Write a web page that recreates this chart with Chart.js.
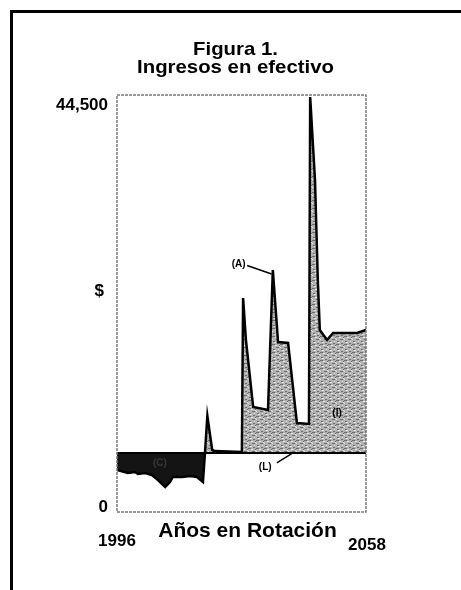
<!DOCTYPE html>
<html>
<head>
<meta charset="utf-8">
<script src="https://cdn.jsdelivr.net/npm/chart.js@4/dist/chart.umd.min.js"></script>
<style>
  html, body { margin: 0; padding: 0; background: #fff; }
  #wrap { width: 461px; height: 590px; }
</style>
</head>
<body>
<div id="wrap"><canvas id="chart" width="461" height="590"></canvas></div>
<script>
// Data
const years = [1996, 1998.7, 2000.5, 2001.2, 2003.0, 2004.7, 2006.2, 2008.0, 2009.2, 2009.9,
  2012.2, 2014.2, 2015.9, 2017.4, 2017.9, 2018.5, 2019.7, 2020.4, 2027.1, 2027.4,
  2028.1, 2029.9, 2033.6, 2034.8, 2036.1, 2038.6, 2040.8, 2043.8, 2044.1, 2045.3,
  2046.0, 2046.5, 2048.3, 2049.8, 2055.8, 2058];
const income = [4482, 4162, 4268, 4055, 4162, 3948, 3415, 2668, 3201, 3735,
  3735, 3842, 3735, 3201, 6300, 10244, 6616, 6500, 6403, 22836,
  18354, 11205, 10884, 25824, 18141, 18034, 9497, 9390, 44285, 35428,
  24757, 19421, 18354, 19101, 19101, 19421];
const baseline = 6300;
const yearStart = 1996;
const yearEnd = 2058;
const yMax = 44500;
const yTickValues = [44500, 23600, 0];
const yTickLabels = ["44,500", "$", "0"];
const xTickValues = [1996, 2058];
const titleLines = ["Figura 1.", "Ingresos en efectivo"];
const xTitle = "Años en Rotación";

const FONT = "'Liberation Sans', Arial, sans-serif";

function makeStipple() {
  const c = document.createElement("canvas");
  c.width = 8;
  c.height = 8;
  const g = c.getContext("2d");
  g.fillStyle = "#b2b2b2";
  g.fillRect(0, 0, 8, 8);
  g.fillStyle = "#6e6e6e";
  g.fillRect(0, 0, 3, 1);
  g.fillRect(4, 3, 3, 1);
  g.fillRect(1, 5, 2, 1);
  g.fillRect(5, 7, 2, 1);
  g.fillRect(7, 1, 1, 1);
  g.fillStyle = "#e6e6e6";
  g.fillRect(3, 1, 2, 1);
  g.fillRect(7, 2, 1, 1);
  g.fillRect(2, 6, 2, 1);
  g.fillRect(6, 5, 1, 1);
  g.fillRect(0, 3, 1, 1);
  return g.createPattern(c, "repeat");
}

const ctxMain = document.getElementById("chart").getContext("2d");
const stipple = makeStipple();

function text(ctx, str, x, y, size, align, base, sx) {
  ctx.save();
  ctx.font = "bold " + size + "px " + FONT;
  ctx.fillStyle = "#000";
  ctx.textAlign = align;
  ctx.textBaseline = base;
  ctx.translate(x, y);
  ctx.scale(sx || 1, 1);
  ctx.fillText(str, 0, 0);
  ctx.restore();
}

function line(ctx, x1, y1, x2, y2, w) {
  ctx.save();
  ctx.strokeStyle = "#000";
  ctx.lineWidth = w;
  ctx.beginPath();
  ctx.moveTo(x1, y1);
  ctx.lineTo(x2, y2);
  ctx.stroke();
  ctx.restore();
}

const decorPlugin = {
  id: "decor",
  beforeDraw(chart) {
    const ctx = chart.ctx;
    // page frame (top and left only, picture is cropped)
    ctx.save();
    ctx.fillStyle = "#000";
    ctx.fillRect(10, 10, 451, 3);
    ctx.fillRect(10, 10, 3, 580);
    ctx.restore();
  },
  afterDraw(chart) {
    const ctx = chart.ctx;
    const a = chart.chartArea;
    const xs = chart.scales.x;
    const ys = chart.scales.y;

    // dotted plot frame
    ctx.save();
    ctx.strokeStyle = "#7a7a7a";
    ctx.lineWidth = 1.5;
    ctx.setLineDash([3, 1]);
    ctx.strokeRect(a.left, a.top, a.right - a.left, a.bottom - a.top);
    ctx.restore();

    // title
    const cx = (a.left + a.right) / 2 - 6;
    text(ctx, titleLines[0], cx, 55, 18.5, "center", "alphabetic", 1.1);
    text(ctx, titleLines[1], cx, 73, 18.5, "center", "alphabetic", 1.1);

    // y labels
    text(ctx, yTickLabels[0], a.left - 9, ys.getPixelForValue(yTickValues[0]) + 2, 17, "right", "top");
    text(ctx, yTickLabels[1], a.left - 13, ys.getPixelForValue(yTickValues[1]), 17, "right", "middle");
    text(ctx, yTickLabels[2], a.left - 9, ys.getPixelForValue(yTickValues[2]), 17, "right", "alphabetic");

    // x title and labels
    text(ctx, xTitle, xs.getPixelForValue(2028.5), 537, 21, "center", "alphabetic");
    text(ctx, String(xTickValues[0]), xs.getPixelForValue(xTickValues[0]), 546, 17, "center", "alphabetic");
    text(ctx, String(xTickValues[1]), xs.getPixelForValue(xTickValues[1]) + 1, 550, 17, "center", "alphabetic");

    // annotations
    const px = (yr) => xs.getPixelForValue(yr);
    const py = (v) => ys.getPixelForValue(v);
    text(ctx, "(A)", px(2026.3), py(26400), 10, "center", "middle");
    line(ctx, px(2028.4), py(26300), px(2034.5), py(25400), 1.5);
    text(ctx, "(I)", px(2050.8), py(10560), 10, "center", "middle");
    text(ctx, "(L)", px(2032.9), py(4800), 10, "center", "middle");
    line(ctx, px(2035.8), py(5250), px(2039.6), py(6250), 1.5);
    ctx.save();
    ctx.globalAlpha = 0.35;
    ctx.fillStyle = "#777";
    ctx.font = "bold 10px " + FONT;
    ctx.textAlign = "center";
    ctx.textBaseline = "middle";
    ctx.fillText("(C)", px(2006.7), py(5230));
    ctx.restore();
  }
};

new Chart(ctxMain, {
  type: "line",
  data: {
    datasets: [
      {
        label: "Ingresos",
        data: years.map((yr, i) => ({ x: yr, y: income[i] })),
        borderColor: "#000",
        borderWidth: 2.5,
        pointRadius: 0,
        tension: 0,
        fill: { value: baseline, above: stipple, below: "#141414" },
        order: 2
      },
      {
        label: "L",
        data: [{ x: yearStart, y: baseline }, { x: yearEnd, y: baseline }],
        borderColor: "#000",
        borderWidth: 2,
        pointRadius: 0,
        fill: false,
        order: 1
      }
    ]
  },
  options: {
    responsive: false,
    animation: false,
    devicePixelRatio: 1,
    layout: { padding: { left: 117, right: 95, top: 95, bottom: 78 } },
    plugins: {
      legend: { display: false },
      title: { display: false },
      tooltip: { enabled: false }
    },
    scales: {
      x: { type: "linear", min: yearStart, max: yearEnd, display: false },
      y: { min: 0, max: yMax, display: false }
    }
  },
  plugins: [decorPlugin]
});
</script>
</body>
</html>
